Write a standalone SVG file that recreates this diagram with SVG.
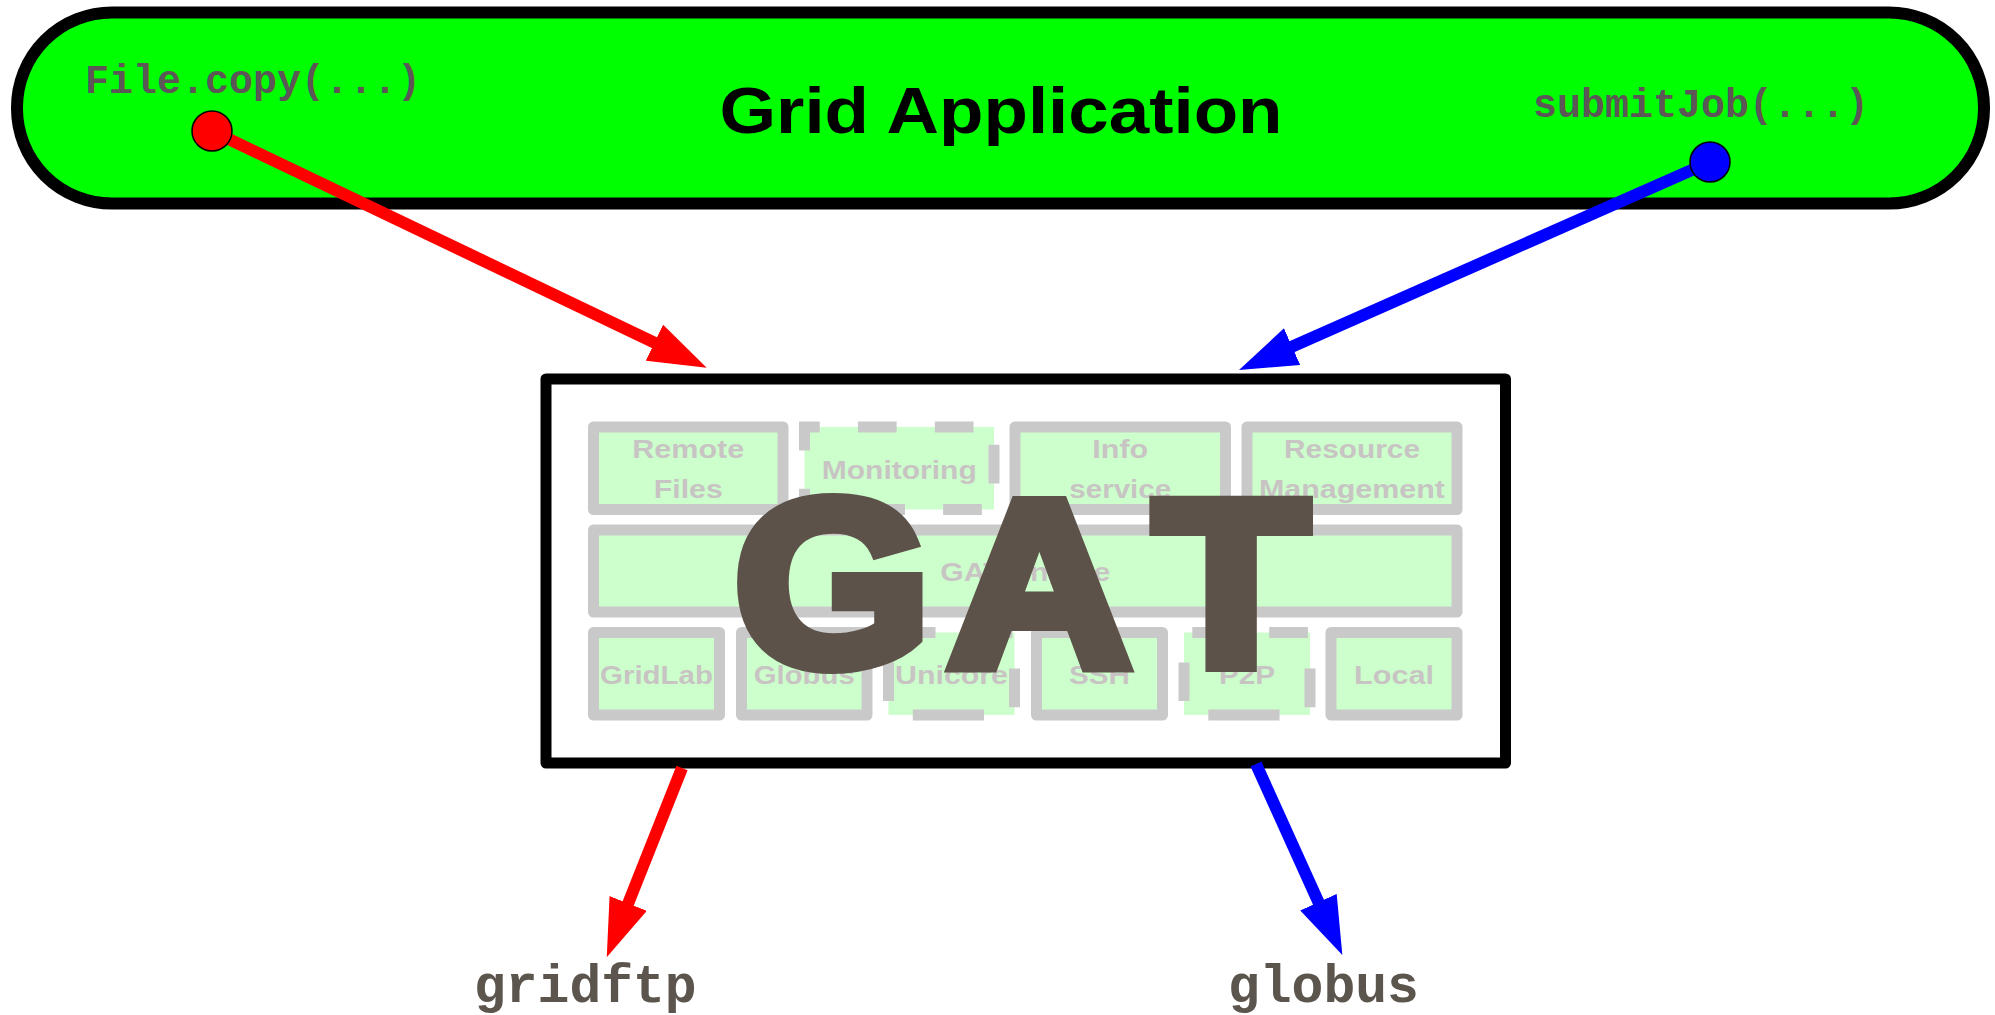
<svg xmlns="http://www.w3.org/2000/svg" width="1995" height="1015" viewBox="0 0 1995 1015">
  <style>
    .app{fill:#00ff00;stroke:#000;stroke-width:12}
    .title{font-family:"Liberation Sans",Arial,sans-serif;font-weight:bold;font-size:64px;fill:#000;text-anchor:middle}
    .call{font-family:"Liberation Mono","Courier New",monospace;font-weight:bold;font-size:40px;fill:#5c5656}
    .proto{font-family:"Liberation Mono","Courier New",monospace;font-weight:bold;font-size:53px;fill:#5c554d}
    .frame{fill:#fff;stroke:#000;stroke-width:11;stroke-linejoin:round}
    .comp{fill:#ccffcc;stroke:#c9c9c9;stroke-width:11;stroke-linejoin:round}
    .dash{stroke-dasharray:38.7 38.2;stroke-linejoin:miter}
    .lbl{font-family:"Liberation Sans",Arial,sans-serif;font-weight:bold;font-size:26.5px;fill:#c9c4c4;text-anchor:middle}
    .logo{font-family:"Liberation Sans",Arial,sans-serif;font-weight:bold;font-size:236px;fill:#5c5249;stroke:#5c5249;stroke-width:14;stroke-linejoin:miter}
    .red{stroke:#ff0000;stroke-width:12;fill:none}
    .blue{stroke:#0000ff;stroke-width:12;fill:none}
  </style>
  <defs>
    <marker id="head-red" viewBox="0 -20 58 40" markerWidth="58" markerHeight="40" refX="4" refY="0" orient="auto" markerUnits="userSpaceOnUse">
      <path d="M0,-20 L58,0 L0,20 Z" fill="#ff0000"/>
    </marker>
    <marker id="head-blue" viewBox="0 -20 58 40" markerWidth="58" markerHeight="40" refX="4" refY="0" orient="auto" markerUnits="userSpaceOnUse">
      <path d="M0,-20 L58,0 L0,20 Z" fill="#0000ff"/>
    </marker>
    <marker id="dot-red" viewBox="-22 -22 44 44" markerWidth="44" markerHeight="44" refX="0" refY="0" markerUnits="userSpaceOnUse">
      <circle r="20" fill="#ff0000" stroke="#000" stroke-width="1.5"/>
    </marker>
    <marker id="dot-blue" viewBox="-22 -22 44 44" markerWidth="44" markerHeight="44" refX="0" refY="0" markerUnits="userSpaceOnUse">
      <circle r="20" fill="#0000ff" stroke="#000" stroke-width="1.5"/>
    </marker>
  </defs>

  <!-- application layer -->
  <g id="grid-application">
    <rect class="app" x="17" y="12.5" width="1967" height="191" rx="95" ry="95"/>
    <text class="title" x="1001" y="133.3" textLength="563" lengthAdjust="spacingAndGlyphs">Grid Application</text>
    <text class="call" x="85" y="92.7">File.copy(...)</text>
    <text class="call" x="1533" y="116.7">submitJob(...)</text>
  </g>

  <!-- GAT frame with its components -->
  <g id="gat">
    <rect class="frame" x="546" y="379" width="959.5" height="384"/>

    <g id="remote-files">
      <rect class="comp" x="593.5" y="427" width="189.5" height="82.5"/>
      <text class="lbl" x="688.25" y="458" textLength="112" lengthAdjust="spacingAndGlyphs">Remote</text>
      <text class="lbl" x="688.25" y="498" textLength="69" lengthAdjust="spacingAndGlyphs">Files</text>
    </g>
    <g id="monitoring">
      <path class="comp dash" d="M899.25,509.5 H804.5 V427 H994 V509.5 Z"/>
      <text class="lbl" x="899.25" y="478.5" textLength="155" lengthAdjust="spacingAndGlyphs">Monitoring</text>
    </g>
    <g id="info-service">
      <rect class="comp" x="1015" y="427" width="210.5" height="82.5"/>
      <text class="lbl" x="1120.25" y="458" textLength="56" lengthAdjust="spacingAndGlyphs">Info</text>
      <text class="lbl" x="1120.25" y="498" textLength="102" lengthAdjust="spacingAndGlyphs">service</text>
    </g>
    <g id="resource-management">
      <rect class="comp" x="1247" y="427" width="210" height="82.5"/>
      <text class="lbl" x="1352" y="458" textLength="136" lengthAdjust="spacingAndGlyphs">Resource</text>
      <text class="lbl" x="1352" y="498" textLength="186" lengthAdjust="spacingAndGlyphs">Management</text>
    </g>

    <g id="gat-engine">
      <rect class="comp" x="593.5" y="530" width="863.5" height="82"/>
      <text class="lbl" x="1025.25" y="581" textLength="170" lengthAdjust="spacingAndGlyphs">GAT Engine</text>
    </g>

    <g id="gridlab">
      <rect class="comp" x="593.5" y="632.5" width="126" height="82.5"/>
      <text class="lbl" x="656.5" y="683.5" textLength="113" lengthAdjust="spacingAndGlyphs">GridLab</text>
    </g>
    <g id="globus-adaptor">
      <rect class="comp" x="741.5" y="632.5" width="125.5" height="82.5"/>
      <text class="lbl" x="804.25" y="683.5" textLength="101" lengthAdjust="spacingAndGlyphs">Globus</text>
    </g>
    <g id="unicore">
      <path class="comp dash" d="M951.5,715 H888.5 V632.5 H1014.5 V715 Z"/>
      <text class="lbl" x="951.5" y="683.5" textLength="113" lengthAdjust="spacingAndGlyphs">Unicore</text>
    </g>
    <g id="ssh">
      <rect class="comp" x="1036.5" y="632.5" width="126" height="82.5"/>
      <text class="lbl" x="1099.5" y="683.5" textLength="61" lengthAdjust="spacingAndGlyphs">SSH</text>
    </g>
    <g id="p2p">
      <path class="comp dash" d="M1247,715 H1184 V632.5 H1310 V715 Z"/>
      <text class="lbl" x="1247" y="683.5" textLength="56" lengthAdjust="spacingAndGlyphs">P2P</text>
    </g>
    <g id="local">
      <rect class="comp" x="1331" y="632.5" width="126" height="82.5"/>
      <text class="lbl" x="1394" y="683.5" textLength="80" lengthAdjust="spacingAndGlyphs">Local</text>
    </g>

    <!-- big logo lettering, widened slightly and placed glyph by glyph -->
    <text class="logo" transform="scale(1.07,1)" x="686.2 886.2 1078.4" y="664.7">GAT</text>
  </g>

  <!-- middleware targets -->
  <g id="gridftp">
    <text class="proto" x="474" y="1002">gridftp</text>
  </g>
  <g id="globus">
    <text class="proto" x="1228" y="1002">globus</text>
  </g>

  <!-- call paths -->
  <g id="connectors">
    <path class="red" d="M212,131 L658,344.4" marker-start="url(#dot-red)" marker-end="url(#head-red)"/>
    <path class="blue" d="M1710,162 L1288.4,348.2" marker-start="url(#dot-blue)" marker-end="url(#head-blue)"/>
    <path class="red" d="M682,768 L626.7,907.1" marker-end="url(#head-red)"/>
    <path class="blue" d="M1256,764 L1320.1,905.8" marker-end="url(#head-blue)"/>
  </g>
</svg>
